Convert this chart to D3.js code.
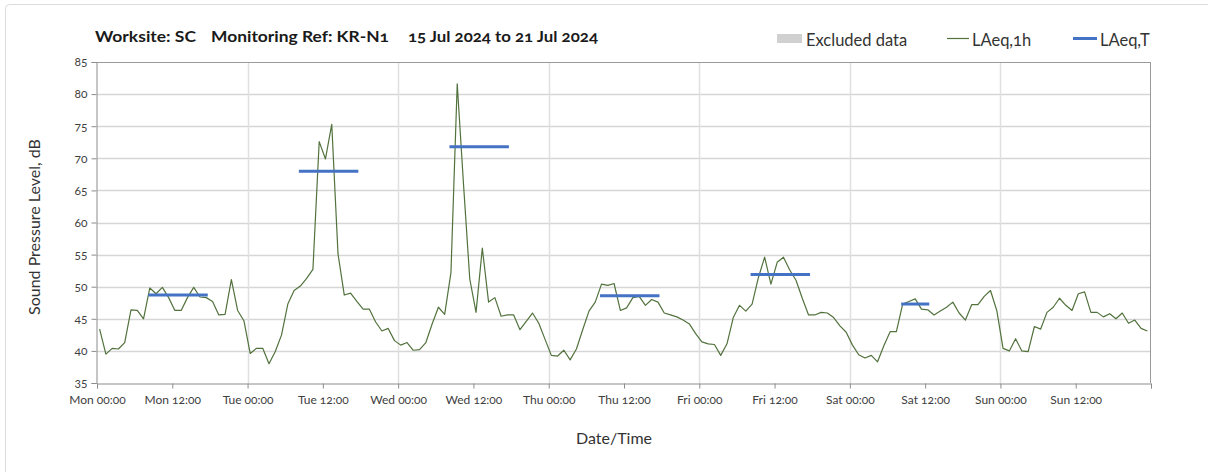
<!DOCTYPE html>
<html>
<head>
<meta charset="utf-8">
<script src="https://cdn.jsdelivr.net/npm/d3@7"></script>
<style>
  body { margin: 0; background: #fff; }
  svg { display: block; font-family: Lato, "Open Sans", sans-serif; font-variant-numeric: oldstyle-nums; }
  svg text { font-family: Lato, "Open Sans", sans-serif; }
</style>
</head>
<body>
<svg id="chart" width="1208" height="472"></svg>
<script>
var svg = d3.select("#chart");

// hourly LAeq,1h readings, Mon 15 Jul 00:00 to Sun 21 Jul 23:00
var laeq1h = [
  43.4, 39.5, 40.4, 40.3, 41.3, 46.4, 46.3, 45.0, 49.8, 48.9, 49.9, 48.3,
  46.3, 46.3, 48.3, 49.9, 48.4, 48.3, 47.7, 45.6, 45.7, 51.1, 46.3, 44.7,
  39.6, 40.4, 40.4, 38.0, 39.9, 42.5, 47.3, 49.4, 50.1, 51.3, 52.7, 72.6,
  69.9, 75.3, 55.1, 48.7, 49.0, 47.7, 46.5, 46.5, 44.5, 43.1, 43.5, 41.6,
  40.9, 41.3, 40.1, 40.2, 41.3, 44.2, 46.8, 45.7, 52.2, 81.6, 66.0, 51.2,
  46.0, 56.0, 47.6, 48.3, 45.4, 45.6, 45.6, 43.3, 44.6, 45.9, 44.3, 41.8,
  39.3, 39.2, 40.1, 38.6, 40.3, 43.3, 46.2, 47.6, 50.4, 50.2, 50.5, 46.3,
  46.7, 48.3, 48.5, 47.1, 48.0, 47.6, 45.9, 45.6, 45.3, 44.8, 44.2, 42.7,
  41.4, 41.1, 41.0, 39.3, 41.1, 45.2, 47.1, 46.2, 47.3, 51.4, 54.6, 50.4,
  53.8, 54.6, 52.6, 51.0, 48.2, 45.6, 45.6, 46.0, 45.9, 45.2, 43.9, 42.9,
  40.9, 39.4, 38.9, 39.3, 38.3, 40.8, 43.0, 43.0, 47.3, 47.7, 48.1, 46.5,
  46.4, 45.6, 46.2, 46.8, 47.6, 45.9, 44.8, 47.2, 47.2, 48.5, 49.4, 46.3,
  40.4, 40.0, 41.9, 40.0, 39.9, 43.8, 43.4, 46.0, 46.8, 48.2, 47.1, 46.3,
  48.9, 49.2, 46.0, 46.0, 45.3, 45.8, 45.0, 45.9, 44.3, 44.8, 43.5, 43.1
];

// LAeq,T periods (hour index start/end) and levels
var periodStart = [8, 32, 56, 80, 104, 128];
var periodEnd   = [17, 41, 65, 89, 113, 132];
var laeqT       = [48.7, 68.0, 71.8, 48.6, 51.9, 47.3];

var yTicks = [35, 40, 45, 50, 55, 60, 65, 70, 75, 80, 85];
var titleParts = ["Worksite: SC", "Monitoring Ref: KR-N1", "15 Jul 2024 to 21 Jul 2024"];
var legendLabels = ["Excluded data", "LAeq,1h", "LAeq,T"];

var startDate = new Date(2024, 6, 15, 0, 0);
var endDate = new Date(2024, 6, 22, 0, 0);
var pointOffsetMin = 25; // points sit a little after the hour start

function hourToDate(h) {
  return new Date(startDate.getTime() + (h * 60 + pointOffsetMin) * 60000);
}

var plotLeft = 97, plotRight = 1151, plotTop = 62, plotBottom = 383;

var xScale = d3.scaleTime().domain([startDate, endDate]).range([plotLeft, plotRight]);
var yScale = d3.scaleLinear().domain([35, 85]).range([plotBottom, plotTop]);

// outer frame
svg.append("rect")
  .attr("x", 5.5).attr("y", 4.5).attr("width", 1220).attr("height", 490)
  .attr("rx", 4)
  .style("fill", "none").style("stroke", "#dcdcdc");

// horizontal gridlines
svg.append("g").selectAll("line").data(yTicks.slice(1, -1)).enter().append("line")
  .attr("x1", plotLeft).attr("x2", plotRight)
  .attr("y1", function (d) { return Math.round(yScale(d)) + 0.5; })
  .attr("y2", function (d) { return Math.round(yScale(d)) + 0.5; })
  .style("stroke", "#d6d6d6").style("stroke-width", 1.4);

// vertical gridlines at midnight
var days = d3.timeDay.range(d3.timeDay.offset(startDate, 1), endDate);
svg.append("g").selectAll("line").data(days).enter().append("line")
  .attr("x1", function (d) { return Math.round(xScale(d)) + 0.5; })
  .attr("x2", function (d) { return Math.round(xScale(d)) + 0.5; })
  .attr("y1", plotTop).attr("y2", plotBottom)
  .style("stroke", "#e0e0e0").style("stroke-width", 1.5);

// top and right frame of plot
svg.append("line").attr("x1", plotLeft).attr("x2", plotRight)
  .attr("y1", plotTop + 0.5).attr("y2", plotTop + 0.5)
  .style("stroke", "#9a9a9a");
svg.append("line").attr("x1", plotRight - 0.5).attr("x2", plotRight - 0.5)
  .attr("y1", plotTop).attr("y2", plotBottom)
  .style("stroke", "#9a9a9a");

// x axis
var bottomAxis = d3.axisBottom(xScale)
  .ticks(d3.timeHour.every(12))
  .tickSize(5)
  .tickFormat(function (d) { return d < endDate ? d3.timeFormat("%a %H:%M")(d) : ""; });
var gx = svg.append("g")
  .attr("transform", "translate(0," + (plotBottom + 0.5) + ")")
  .call(bottomAxis);
gx.attr("font-family", null);
gx.select(".domain").style("stroke", "#8c8c8c");
gx.selectAll(".tick line").style("stroke", "#8c8c8c");
gx.selectAll("text").attr("dy", "1.05em").style("font-size", "12px").style("fill", "#404040");

// y axis
var leftAxis = d3.axisLeft(yScale).tickValues(yTicks).tickSize(5);
var gy = svg.append("g")
  .attr("transform", "translate(" + (plotLeft - 0.5) + ",0)")
  .call(leftAxis);
gy.attr("font-family", null);
gy.select(".domain").style("stroke", "#8c8c8c");
gy.selectAll(".tick line").style("stroke", "#8c8c8c");
gy.selectAll("text").attr("x", -9).style("font-size", "12px").style("fill", "#404040");

// LAeq,1h line
var line = d3.line()
  .x(function (d, i) { return xScale(hourToDate(i)); })
  .y(function (d) { return yScale(d); });
svg.append("path")
  .datum(laeq1h)
  .attr("d", line)
  .style("fill", "none")
  .style("stroke", "#52723d")
  .style("stroke-width", 1.2)
  .style("stroke-linejoin", "round");

// LAeq,T bars
svg.append("g").selectAll("line").data(laeqT).enter().append("line")
  .attr("x1", function (d, i) { return xScale(hourToDate(periodStart[i])); })
  .attr("x2", function (d, i) { return xScale(hourToDate(periodEnd[i])); })
  .attr("y1", function (d) { return yScale(d); })
  .attr("y2", function (d) { return yScale(d); })
  .style("stroke", "#4472c4")
  .style("stroke-width", 3)
  .style("stroke-linecap", "square");

// title
var titleX = [95, 211, 408];
var titleW = [101, 178, 190];
svg.append("g").selectAll("text").data(titleParts).enter().append("text")
  .attr("x", function (d, i) { return titleX[i]; })
  .attr("y", 42)
  .attr("textLength", function (d, i) { return titleW[i]; })
  .attr("lengthAdjust", "spacingAndGlyphs")
  .style("font-size", "15px").style("font-weight", "bold").style("fill", "#1a1a1a")
  .text(function (d) { return d; });

// legend
var legend = svg.append("g").style("font-size", "16.5px").style("fill", "#333");
legend.append("rect").attr("x", 777).attr("y", 34).attr("width", 25).attr("height", 9)
  .style("fill", "#d0d0d0");
legend.append("text").attr("x", 806).attr("y", 46).text(legendLabels[0]);
legend.append("line").attr("x1", 947).attr("x2", 969).attr("y1", 38.5).attr("y2", 38.5)
  .style("stroke", "#52723d").style("stroke-width", 1.2);
legend.append("text").attr("x", 972).attr("y", 46).text(legendLabels[1]);
legend.append("line").attr("x1", 1073).attr("x2", 1097).attr("y1", 38.5).attr("y2", 38.5)
  .style("stroke", "#4472c4").style("stroke-width", 3);
legend.append("text").attr("x", 1100).attr("y", 46).text(legendLabels[2]);

// axis titles
svg.append("text")
  .attr("x", 614).attr("y", 444)
  .attr("text-anchor", "middle")
  .style("font-size", "16px").style("fill", "#333")
  .text("Date/Time");

svg.append("text")
  .attr("transform", "translate(40," + 227 + ")rotate(-90)")
  .attr("text-anchor", "middle")
  .style("font-size", "16px").style("fill", "#333")
  .text("Sound Pressure Level, dB");
</script>
</body>
</html>
